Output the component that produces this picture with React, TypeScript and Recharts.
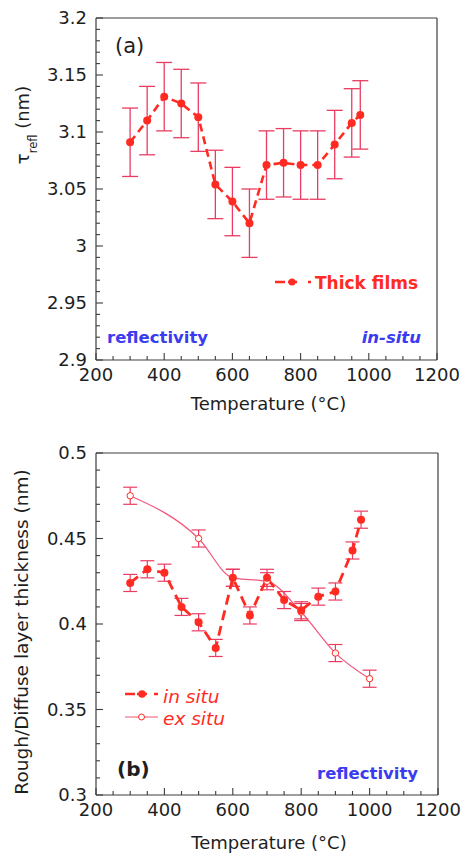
import React from 'react';
import { LineChart, Line, XAxis, YAxis, ErrorBar, Legend } from 'recharts';

// ---------- data ----------
const tempsThick = [300, 350, 400, 450, 500, 550, 600, 650, 700, 750, 800, 850, 900, 950, 975];
const tauRefl = [3.091, 3.11, 3.131, 3.125, 3.113, 3.054, 3.039, 3.02, 3.071, 3.073, 3.071, 3.071, 3.089, 3.108, 3.115];
const tauErr = [0.03, 0.03, 0.03, 0.03, 0.03, 0.03, 0.03, 0.03, 0.03, 0.03, 0.03, 0.03, 0.03, 0.03, 0.03];

const tempsInSitu = [300, 350, 400, 450, 500, 550, 600, 650, 700, 750, 800, 850, 900, 950, 975];
const inSitu = [0.424, 0.432, 0.43, 0.41, 0.401, 0.386, 0.427, 0.405, 0.427, 0.414, 0.408, 0.416, 0.419, 0.443, 0.461];
const inSituErr = [0.005, 0.005, 0.005, 0.005, 0.005, 0.005, 0.005, 0.005, 0.005, 0.005, 0.005, 0.005, 0.005, 0.005, 0.005];

const tempsExSitu = [300, 500, 600, 700, 800, 900, 1000];
const exSitu = [0.475, 0.45, 0.427, 0.425, 0.407, 0.383, 0.368];
const exSituErr = [0.005, 0.005, 0.005, 0.005, 0.005, 0.005, 0.005];

const xTicks = [200, 250, 300, 350, 400, 450, 500, 550, 600, 650, 700, 750, 800, 850, 900, 950, 1000, 1050, 1100, 1150, 1200];
const xMajor = [200, 400, 600, 800, 1000, 1200];
const yTicksA = [2.9, 2.91, 2.92, 2.93, 2.94, 2.95, 2.96, 2.97, 2.98, 2.99, 3.0, 3.01, 3.02, 3.03, 3.04, 3.05, 3.06, 3.07, 3.08, 3.09, 3.1, 3.11, 3.12, 3.13, 3.14, 3.15, 3.16, 3.17, 3.18, 3.19, 3.2];
const yMajorA = [2.9, 2.95, 3.0, 3.05, 3.1, 3.15, 3.2];
const yTicksB = [0.3, 0.31, 0.32, 0.33, 0.34, 0.35, 0.36, 0.37, 0.38, 0.39, 0.4, 0.41, 0.42, 0.43, 0.44, 0.45, 0.46, 0.47, 0.48, 0.49, 0.5];
const yMajorB = [0.3, 0.35, 0.4, 0.45, 0.5];

const thickData = tempsThick.map((t, i) => ({ t, v: tauRefl[i], e: tauErr[i] }));
const inSituData = tempsInSitu.map((t, i) => ({ t, v: inSitu[i], e: inSituErr[i] }));
const exSituData = tempsExSitu.map((t, i) => ({ t, v: exSitu[i], e: exSituErr[i] }));

// ---------- styles ----------
const FONT = '"DejaVu Sans", Verdana, sans-serif';
const RED = '#ff2b22';
const ERR = '#ea3c62';
const EXLINE = '#f2567c';
const BLUE = '#3b3bef';
const AXIS = '#3c3c3c';
const TXT = '#1e1e1e';

const isIn = (arr: number[], v: number) => arr.some((m) => Math.abs(m - v) < 1e-9);

const makeTick = (side: 'bottom' | 'top' | 'left' | 'right', majors: number[], label: boolean) => (props: any) => {
  const { x, y, payload } = props;
  const v = payload.value;
  const major = isIn(majors, v);
  const len = major ? 7 : 4;
  let line;
  if (side === 'bottom') line = <line x1={x} x2={x} y1={y} y2={y - len} stroke={AXIS} strokeWidth={1.1} />;
  else if (side === 'top') line = <line x1={x} x2={x} y1={y} y2={y + len} stroke={AXIS} strokeWidth={1.1} />;
  else if (side === 'left') line = <line x1={x} x2={x + len} y1={y} y2={y} stroke={AXIS} strokeWidth={1.1} />;
  else line = <line x1={x} x2={x - len} y1={y} y2={y} stroke={AXIS} strokeWidth={1.1} />;
  let text = null;
  if (label && major) {
    if (side === 'bottom')
      text = (
        <text x={x} y={y + 21} textAnchor="middle" fontSize={18} fontFamily={FONT} fill={TXT}>
          {String(v)}
        </text>
      );
    else if (side === 'left')
      text = (
        <text x={x - 9} y={y} dy="0.36em" textAnchor="end" fontSize={18} fontFamily={FONT} fill={TXT}>
          {String(Math.round(v * 100) / 100)}
        </text>
      );
  }
  return (
    <g>
      {line}
      {text}
    </g>
  );
};

const xLabel = (offset: number) => (props: any) => {
  const vb = props.viewBox;
  return (
    <text x={vb.x + vb.width / 2 + 2} y={vb.y + offset} textAnchor="middle" fontSize={18} fontFamily={FONT} fill={TXT}>
      Temperature (°C)
    </text>
  );
};

const yLabelA = (props: any) => {
  const vb = props.viewBox;
  const cx = 29;
  const cy = vb.y + 107;
  return (
    <text transform={`translate(${cx}, ${cy}) rotate(-90)`} textAnchor="middle" fontSize={18} fontFamily={FONT} fill={TXT}>
      <tspan>τ</tspan>
      <tspan dy={8} fontSize={11.5}>refl</tspan>
      <tspan dy={-8}> (nm)</tspan>
    </text>
  );
};

const yLabelB = (props: any) => {
  const vb = props.viewBox;
  const cx = 28;
  const cy = vb.y + vb.height / 2 + 8;
  return (
    <text transform={`translate(${cx}, ${cy}) rotate(-90)`} textAnchor="middle" fontSize={18.5} fontFamily={FONT} fill={TXT}>
      Rough/Diffuse layer thickness (nm)
    </text>
  );
};

const legendA = () => (
  <svg width={175} height={30} style={{ display: 'block', overflow: 'visible' }}>
    <line x1={3} x2={13} y1={14} y2={14} stroke={RED} strokeWidth={2.5} />
    <line x1={16} x2={25} y1={14} y2={14} stroke={RED} strokeWidth={2.5} />
    <circle cx={20} cy={14} r={3.5} fill={RED} />
    <line x1={36} x2={39} y1={14} y2={14} stroke={RED} strokeWidth={2.5} />
    <text x={43} y={21} fill={RED} fontSize={17} fontWeight="bold" fontFamily={FONT}>
      Thick films
    </text>
  </svg>
);

const legendB = () => (
  <svg width={140} height={50} style={{ display: 'block', overflow: 'visible' }}>
    <line x1={7} x2={17} y1={10} y2={10} stroke={RED} strokeWidth={2.5} />
    <line x1={19} x2={29} y1={10} y2={10} stroke={RED} strokeWidth={2.5} />
    <circle cx={24} cy={10} r={3.8} fill={RED} />
    <line x1={36} x2={40} y1={10} y2={10} stroke={RED} strokeWidth={2.5} />
    <text x={45} y={19} fill={RED} fontSize={18.5} fontStyle="italic" fontFamily={FONT}>
      in situ
    </text>
    <line x1={7} x2={40} y1={33} y2={33} stroke={EXLINE} strokeWidth={1.2} />
    <circle cx={23.5} cy={33} r={3} fill="#fff" stroke={RED} strokeWidth={1} />
    <text x={45} y={41} fill={RED} fontSize={18.5} fontStyle="italic" fontFamily={FONT}>
      ex situ
    </text>
  </svg>
);

const filledDot = (props: any) => {
  const { cx, cy, index } = props;
  return <circle key={`d${index}`} cx={cx} cy={cy} r={4} fill={RED} stroke="none" />;
};
const openDot = (props: any) => {
  const { cx, cy, index } = props;
  return <circle key={`o${index}`} cx={cx} cy={cy} r={3.2} fill="#fff" stroke={RED} strokeWidth={1} />;
};

const axisCommon = {
  interval: 0 as const,
  tickSize: 0,
  tickMargin: 0,
  tickLine: false,
  axisLine: { stroke: AXIS, strokeWidth: 1.2 },
};

export default function App() {
  return (
    <div style={{ position: 'absolute', left: 0, top: 0, width: 461, height: 855, background: '#fff', overflow: 'hidden' }}>
      {/* Chart (a) */}
      <div style={{ position: 'absolute', left: 0, top: 0 }}>
        <LineChart width={461} height={430} margin={{ top: 17, right: 23, bottom: 0, left: 0 }}>
          <XAxis
            {...axisCommon}
            dataKey="t"
            type="number"
            domain={[200, 1200]}
            ticks={xTicks}
            height={70}
            tick={makeTick('bottom', xMajor, true)}
            allowDataOverflow
            label={{ content: xLabel(50) }}
          />
          <XAxis
            {...axisCommon}
            xAxisId="top"
            orientation="top"
            dataKey="t"
            type="number"
            domain={[200, 1200]}
            ticks={xTicks}
            height={1}
            tick={makeTick('top', xMajor, false)}
          />
          <YAxis
            {...axisCommon}
            type="number"
            domain={[2.9, 3.2]}
            ticks={yTicksA}
            width={96}
            tick={makeTick('left', yMajorA, true)}
            allowDataOverflow
            label={{ content: yLabelA }}
          />
          <YAxis
            {...axisCommon}
            yAxisId="right"
            orientation="right"
            type="number"
            domain={[2.9, 3.2]}
            ticks={yTicksA}
            width={1}
            tick={makeTick('right', yMajorA, false)}
          />
          <Line
            data={thickData}
            dataKey="v"
            type="linear"
            stroke={RED}
            strokeWidth={2.6}
            strokeDasharray="8 5"
            dot={filledDot}
            activeDot={false}
            isAnimationActive={false}
          >
            <ErrorBar dataKey="e" direction="y" width={8} stroke={ERR} strokeWidth={1.3} />
          </Line>
          <Legend
            layout="vertical"
            align="center"
            verticalAlign="middle"
            content={legendA}
            wrapperStyle={{ left: 272, top: 268, width: 175, height: 30 }}
          />
        </LineChart>
      </div>

      {/* Chart (b) */}
      <div style={{ position: 'absolute', left: 0, top: 430 }}>
        <LineChart width={461} height={425} margin={{ top: 22, right: 22, bottom: 0, left: 0 }}>
          <XAxis
            {...axisCommon}
            dataKey="t"
            type="number"
            domain={[200, 1200]}
            ticks={xTicks}
            height={60}
            tick={makeTick('bottom', xMajor, true)}
            allowDataOverflow
            label={{ content: xLabel(54) }}
          />
          <XAxis
            {...axisCommon}
            xAxisId="top"
            orientation="top"
            dataKey="t"
            type="number"
            domain={[200, 1200]}
            ticks={xTicks}
            height={1}
            tick={makeTick('top', xMajor, false)}
          />
          <YAxis
            {...axisCommon}
            type="number"
            domain={[0.3, 0.5]}
            ticks={yTicksB}
            width={96}
            tick={makeTick('left', yMajorB, true)}
            allowDataOverflow
            label={{ content: yLabelB }}
          />
          <YAxis
            {...axisCommon}
            yAxisId="right"
            orientation="right"
            type="number"
            domain={[0.3, 0.5]}
            ticks={yTicksB}
            width={1}
            tick={makeTick('right', yMajorB, false)}
          />
          <Line
            data={exSituData}
            dataKey="v"
            type="monotone"
            stroke={EXLINE}
            strokeWidth={1.2}
            dot={openDot}
            activeDot={false}
            isAnimationActive={false}
          >
            <ErrorBar dataKey="e" direction="y" width={7} stroke={ERR} strokeWidth={1.2} />
          </Line>
          <Line
            data={inSituData}
            dataKey="v"
            type="linear"
            stroke={RED}
            strokeWidth={2.8}
            strokeDasharray="10 6"
            dot={filledDot}
            activeDot={false}
            isAnimationActive={false}
          >
            <ErrorBar dataKey="e" direction="y" width={7} stroke={ERR} strokeWidth={1.2} />
          </Line>
          <Legend
            layout="vertical"
            align="center"
            verticalAlign="middle"
            content={legendB}
            wrapperStyle={{ left: 118, top: 254, width: 140, height: 50 }}
          />
        </LineChart>
      </div>

      {/* annotations */}
      <svg width={461} height={855} style={{ position: 'absolute', left: 0, top: 0, pointerEvents: 'none' }}>
        <text x={115} y={53} fontSize={21} fontFamily={FONT} fill={TXT}>(a)</text>
        <text x={107} y={343} fontSize={16.5} fontWeight="bold" fontFamily={FONT} fill={BLUE}>reflectivity</text>
        <text x={421} y={343} textAnchor="end" fontSize={16.5} fontWeight="bold" fontStyle="italic" fontFamily={FONT} fill={BLUE}>in-situ</text>
        <text x={117} y={776} fontSize={20} fontWeight="bold" fontFamily={FONT} fill={TXT}>(b)</text>
        <text x={317} y={779} fontSize={16.5} fontWeight="bold" fontFamily={FONT} fill={BLUE}>reflectivity</text>
      </svg>
    </div>
  );
}
